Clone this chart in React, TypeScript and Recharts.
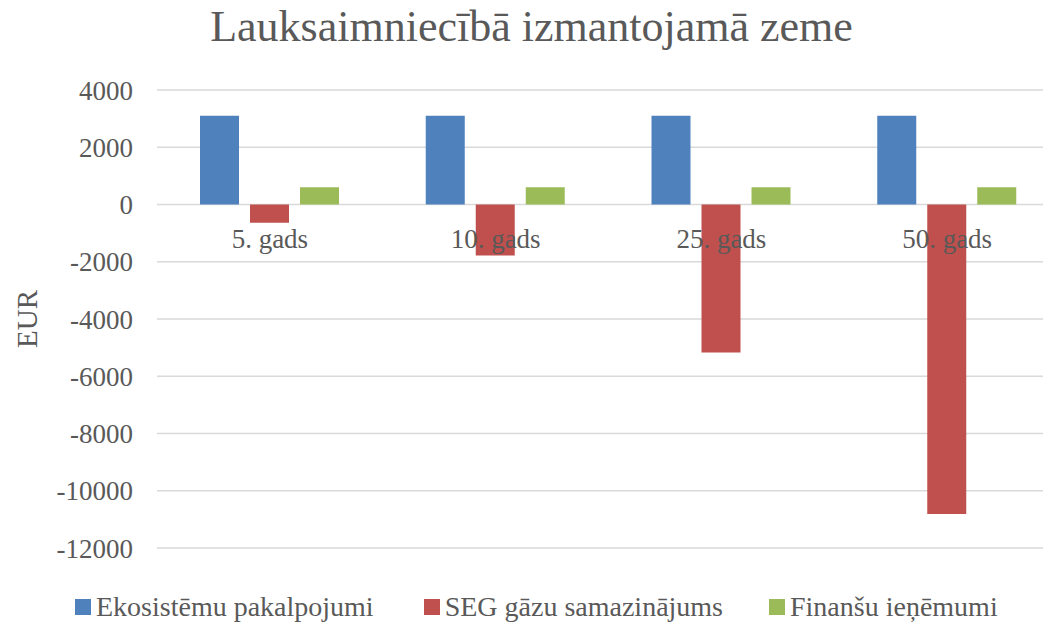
import React from "react";
import { BarChart, Bar, XAxis, YAxis, CartesianGrid, Legend } from "recharts";

const categories = ["5. gads", "10. gads", "25. gads", "50. gads"];
const ekosistemas = [3100, 3100, 3100, 3100];
const segGazes = [-640, -1780, -5170, -10810];
const finanses = [600, 600, 600, 600];
const yTicks = [4000, 2000, 0, -2000, -4000, -6000, -8000, -10000, -12000];

const Y_MIN = -12000;
const Y_MAX = 4000;
const FONT = "Liberation Serif, Times New Roman, serif";
const TEXT = "#595959";

const CHART_W = 1060;
const CHART_H = 624;
const PLOT_TOP = 90;
const PLOT_BOTTOM_GAP = 76;
const LEGEND_H = 30;
const MARGIN = { top: PLOT_TOP, right: 0, bottom: PLOT_BOTTOM_GAP - LEGEND_H - 1, left: 0 };
const PLOT_H = CHART_H - PLOT_TOP - PLOT_BOTTOM_GAP;

const series = [
  { key: "eko", name: "Ekosistēmu pakalpojumi", color: "#4F81BD" },
  { key: "seg", name: "SEG gāzu samazinājums", color: "#C0504D" },
  { key: "fin", name: "Finanšu ieņēmumi", color: "#9BBB59" },
];

const data = categories.map((name, i) => ({
  name,
  eko: ekosistemas[i],
  seg: segGazes[i],
  fin: finanses[i],
}));

// category labels sit just under the zero line, like in Excel
const zeroOffset = (PLOT_H * (0 - Y_MIN)) / (Y_MAX - Y_MIN);

function CategoryTick(props: any) {
  const { x, y, payload } = props;
  return (
    <text
      x={x}
      y={y - zeroOffset + 43}
      textAnchor="middle"
      fill={TEXT}
      fontSize={27}
      fontFamily={FONT}
    >
      {payload.value}
    </text>
  );
}

const legendGaps = [50, 46, 0];

function LegendContent() {
  return (
    <div style={{ display: "flex", paddingLeft: 75, fontFamily: FONT, fontSize: 28, color: TEXT, height: LEGEND_H }}>
      {series.map((s, i) => (
        <div key={s.key} style={{ display: "flex", alignItems: "center", marginRight: legendGaps[i] }}>
          <span style={{ width: 16, height: 16, background: s.color, display: "inline-block", marginRight: 5 }} />
          <span style={{ lineHeight: LEGEND_H + "px" }}>{s.name}</span>
        </div>
      ))}
    </div>
  );
}

export default function App() {
  return (
    <div style={{ position: "relative", width: 1043, height: 624, overflow: "hidden", background: "#fff" }}>
      <style>{`body{margin:0}`}</style>
      <div
        style={{
          position: "absolute",
          left: 0,
          top: 2,
          width: 1063,
          textAlign: "center",
          fontFamily: FONT,
          fontSize: 44,
          color: TEXT,
          lineHeight: "50px",
        }}
      >
        Lauksaimniecībā izmantojamā zeme
      </div>
      <BarChart
        width={CHART_W}
        height={CHART_H}
        data={data}
        margin={MARGIN}
        barSize={39}
        barGap={11}
      >
        <CartesianGrid vertical={false} stroke="#d9d9d9" strokeWidth={1.5} />
        <XAxis
          dataKey="name"
          height={1}
          axisLine={false}
          tickLine={false}
          tickSize={0}
          tickMargin={0}
          tick={(p: any) => <CategoryTick {...p} />}
          interval={0}
        />
        <YAxis
          width={157}
          domain={[Y_MIN, Y_MAX]}
          ticks={yTicks}
          axisLine={false}
          tickLine={false}
          tickSize={0}
          tickMargin={24}
          tick={{ fill: TEXT, fontSize: 27, fontFamily: FONT }}
          label={{
            value: "EUR",
            angle: -90,
            position: "insideLeft",
            offset: 27,
            style: { fill: TEXT, fontSize: 29, fontFamily: FONT, textAnchor: "middle" },
          }}
        />
        <Legend
          content={<LegendContent />}
          wrapperStyle={{ position: "absolute", left: 0, top: 592, width: 1043, height: LEGEND_H }}
        />
        {series.map((s) => (
          <Bar key={s.key} dataKey={s.key} name={s.name} fill={s.color} isAnimationActive={false} />
        ))}
      </BarChart>
    </div>
  );
}
